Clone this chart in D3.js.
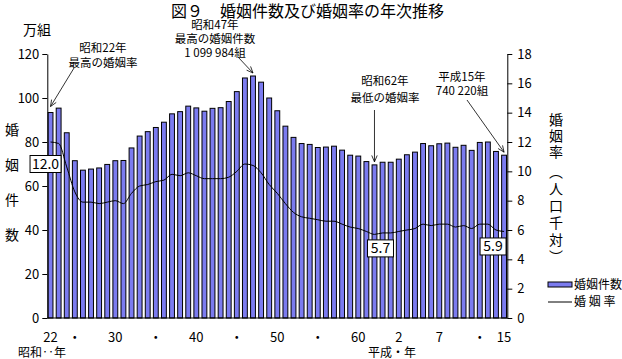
<!DOCTYPE html>
<html>
<head>
<meta charset="utf-8">
<script src="https://cdn.jsdelivr.net/npm/d3@7"></script>
<style>
  body { margin: 0; background: #fff; }
  svg text { font-family: "Noto Sans CJK JP", "Noto Sans", sans-serif; fill: #000; }
</style>
</head>
<body>
<div id="chart"></div>
<script>
// 婚姻件数(万組)と婚姻率(人口千対)  昭和22年(1947) - 平成15年(2003)
const years = d3.range(1947, 2004);

const marriages = [
    93.4, 95.4, 84.2, 71.5, 67.2, 67.7, 68.2, 69.8, 71.5, 71.6,
    77.3, 82.7, 84.7, 86.6, 89.0, 92.8, 93.8, 96.3, 95.5, 94.0,
    95.3, 95.6, 98.4, 102.9, 109.1, 110.0, 107.2, 100.0, 94.2, 87.2,
    82.1, 79.3, 78.9, 77.5, 77.7, 78.1, 76.3, 74.0, 73.6, 71.1,
    69.6, 70.8, 70.8, 72.2, 74.2, 75.4, 79.3, 78.3, 79.2, 79.5,
    77.6, 78.5, 76.2, 79.8, 80.0, 75.7, 74.0
];

const rates = [
    12.0, 11.9, 10.3, 8.6, 7.9, 7.9, 7.8, 7.9, 8.0, 7.8,
    8.5, 9.0, 9.1, 9.3, 9.4, 9.8, 9.7, 9.9, 9.7, 9.5,
    9.5, 9.5, 9.6, 10.0, 10.5, 10.4, 9.9, 9.1, 8.5, 7.8,
    7.2, 6.9, 6.8, 6.7, 6.6, 6.6, 6.4, 6.2, 6.1, 5.9,
    5.7, 5.8, 5.8, 5.9, 6.0, 6.1, 6.4, 6.3, 6.4, 6.4,
    6.2, 6.3, 6.1, 6.4, 6.4, 6.0, 5.9
];

// x軸ラベル
const tickYears = [1947, 1950, 1955, 1960, 1965, 1970, 1975, 1980, 1985, 1990, 1995, 2000, 2003];
const tickText  = ["22", "・", "30", "・", "40", "・", "50", "・", "60", "2", "7", "・", "15"];

const leftTicks = [0, 20, 40, 60, 80, 100, 120];
const rightTicks = [0, 2, 4, 6, 8, 10, 12, 14, 16, 18];

const width = 622, height = 359;
const barColor = "#7b7bef";

const svg = d3.select("#chart").append("svg")
    .attr("width", width)
    .attr("height", height);

svg.append("rect").attr("width", width).attr("height", height).attr("fill", "#fff");

// scales
const x = d3.scaleBand()
    .domain(years)
    .range([47.3, 507.3])
    .paddingInner(0.4)
    .paddingOuter(0.1);

const yL = d3.scaleLinear().domain([0, 120]).range([318, 54]);
const yR = d3.scaleLinear().domain([0, 18]).range([318, 54]);

const cx = yr => x(yr) + x.bandwidth() / 2;

// bars
svg.append("g")
    .selectAll("rect")
    .data(years)
    .join("rect")
    .attr("x", d => x(d))
    .attr("y", (d, i) => yL(marriages[i]))
    .attr("width", x.bandwidth())
    .attr("height", (d, i) => yL(0) - yL(marriages[i]))
    .attr("fill", barColor)
    .attr("stroke", "#000")
    .attr("stroke-width", 1);

// rate line
const line = d3.line()
    .x((d, i) => cx(years[i]))
    .y(d => yR(d))
    .curve(d3.curveMonotoneX);

svg.append("path")
    .datum(rates)
    .attr("d", line)
    .attr("fill", "none")
    .attr("stroke", "#000")
    .attr("stroke-width", 1);

// axes
const axisL = svg.append("g")
    .attr("transform", "translate(47.3,0)")
    .call(d3.axisLeft(yL).tickValues(leftTicks).tickSize(5).tickSizeOuter(0).tickPadding(3));

const axisR = svg.append("g")
    .attr("transform", "translate(507.3,0)")
    .call(d3.axisRight(yR).tickValues(rightTicks).tickSize(5).tickSizeOuter(0).tickPadding(5));

[axisL, axisR].forEach(a => {
    a.selectAll("text")
        .style("font-family", "'Noto Sans CJK JP', sans-serif")
        .style("font-size", "13px")
        .attr("fill", "#000");
    a.selectAll("line, path").attr("stroke", "#000");
});

// baseline
svg.append("line")
    .attr("x1", 47.3).attr("x2", 507.3)
    .attr("y1", yL(0)).attr("y2", yL(0))
    .attr("stroke", "#000");

// x labels
svg.append("g")
    .selectAll("text")
    .data(tickYears)
    .join("text")
    .attr("x", d => cx(d))
    .attr("y", 342)
    .attr("text-anchor", "middle")
    .style("font-size", "13px")
    .text((d, i) => tickText[i]);

svg.append("text").attr("x", 18).attr("y", 357).style("font-size", "12px").text("昭和‥年");
svg.append("text").attr("x", 368).attr("y", 357).style("font-size", "12px").text("平成・年");

// title
svg.append("text").attr("x", 171).attr("y", 17).style("font-size", "16px").text("図９");
svg.append("text").attr("x", 220).attr("y", 17).style("font-size", "16px").text("婚姻件数及び婚姻率の年次推移");

// left axis title
svg.append("text").attr("x", 23).attr("y", 35).style("font-size", "14px").text("万組");
["婚", "姻", "件", "数"].forEach((c, i) => {
    svg.append("text")
        .attr("x", 12).attr("y", 135 + i * 35)
        .attr("text-anchor", "middle")
        .style("font-size", "14px")
        .text(c);
});

// right axis title
const rTitle = ["婚", "姻", "率", "︵", "人", "口", "千", "対", "︶"];
const rY = [120, 136, 152, 172, 189, 206, 223, 240, 257];
rTitle.forEach((c, i) => {
    svg.append("text")
        .attr("x", 556).attr("y", rY[i] + 5)
        .attr("text-anchor", "middle")
        .style("font-size", "14px")
        .text(c);
});

// legend
svg.append("rect")
    .attr("x", 548).attr("y", 282).attr("width", 24).attr("height", 5)
    .attr("fill", barColor).attr("stroke", "#000");
svg.append("text").attr("x", 574).attr("y", 289).style("font-size", "12px").text("婚姻件数");
svg.append("line")
    .attr("x1", 548).attr("x2", 572).attr("y1", 302).attr("y2", 302)
    .attr("stroke", "#000");
svg.append("text").attr("x", 574).attr("y", 306).style("font-size", "12px").text("婚 姻 率");

// value boxes
function valueBox(cxp, cyp, label) {
    const w = label.length > 3 ? 31 : 26, h = 17;
    svg.append("rect")
        .attr("x", cxp - w / 2).attr("y", cyp - h / 2)
        .attr("width", w).attr("height", h)
        .attr("fill", "#fff").attr("stroke", "#000");
    svg.append("text")
        .attr("x", cxp).attr("y", cyp + 5)
        .attr("text-anchor", "middle")
        .style("font-size", "14px")
        .text(label);
}
const iOf = yr => years.indexOf(yr);
valueBox(cx(1947) - 5, yR(rates[iOf(1947)]) + 22, "12.0");
valueBox(cx(1987) + 6, yR(rates[iOf(1987)]) + 14, "5.7");
valueBox(cx(2003) - 11, yR(rates[iOf(2003)]) + 15, "5.9");

// arrows
function arrow(x1, y1, x2, y2) {
    svg.append("line")
        .attr("x1", x1).attr("y1", y1).attr("x2", x2).attr("y2", y2)
        .attr("stroke", "#000").attr("stroke-width", 0.8);
    const a = Math.atan2(y2 - y1, x2 - x1), L = 7, s = 0.4;
    [a + Math.PI - s, a + Math.PI + s].forEach(t => {
        svg.append("line")
            .attr("x1", x2).attr("y1", y2)
            .attr("x2", x2 + L * Math.cos(t)).attr("y2", y2 + L * Math.sin(t))
            .attr("stroke", "#000").attr("stroke-width", 0.8);
    });
}

function note(xc, yTop, gap, lines) {
    lines.forEach((t, i) => {
        svg.append("text")
            .attr("x", xc).attr("y", yTop + i * gap)
            .attr("text-anchor", "middle")
            .style("font-size", "11.5px")
            .text(t);
    });
}

// 昭和22年 最高の婚姻率
note(103, 52, 15, ["昭和22年", "最高の婚姻率"]);
arrow(74, 68, cx(1947), yL(marriages[iOf(1947)]) - 6);

// 昭和47年 最高の婚姻件数
note(215, 29, 14, ["昭和47年", "最高の婚姻件数", "1 099 984組"]);
arrow(238, 57, cx(1972), yL(marriages[iOf(1972)]) - 3);

// 昭和62年 最低の婚姻率
note(385, 85, 17, ["昭和62年", "最低の婚姻率"]);
arrow(cx(1987), 110, cx(1987), yL(marriages[iOf(1987)]) - 3);

// 平成15年
note(462, 81, 14, ["平成15年", "740 220組"]);
arrow(467, 100, cx(2003), yL(marriages[iOf(2003)]) - 3);
</script>
</body>
</html>
